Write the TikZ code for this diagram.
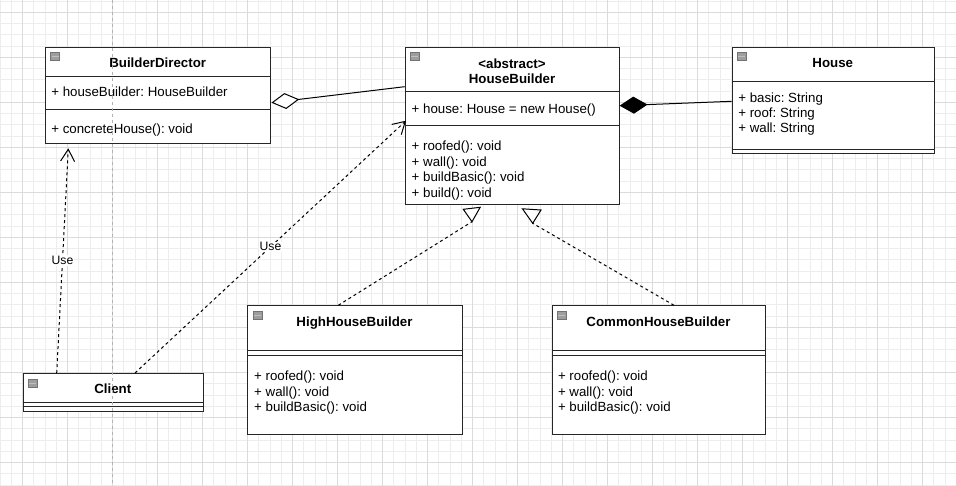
\documentclass[tikz,border=0pt]{standalone}
\usepackage{fontspec}
\setmainfont{Liberation Sans}
\usetikzlibrary{arrows.meta,calc}
\frenchspacing
\newcommand\clsicon[1]{%
  \draw[fill=black!38,draw=black!55,line width=0.6pt] ($(#1.north west)+(5.5,6)$) rectangle ++(9,8);
  \draw[white!75!black,line width=1pt] ($(#1.north west)+(6.5,10)$) -- ++(7,0);}
\begin{document}
\begin{tikzpicture}[x=1pt,y=-1pt,
  gridminor/.style={draw=black!7,line width=0.6pt},
  gridmajor/.style={draw=black!14,line width=0.7pt},
  cls/.style={draw=black!85,line width=1pt,fill=white,inner sep=0pt,anchor=north west},
  sepline/.style={draw=black!85,line width=1pt},
  txt/.style={inner sep=0pt,anchor=base west,font=\fontsize{13.3pt}{15pt}\selectfont},
  ttl/.style={inner sep=0pt,anchor=base,font=\bfseries\fontsize{13.3pt}{15pt}\selectfont},
  dep/.style={draw=black,line width=1pt,dash pattern=on 3pt off 3pt},
  conn/.style={draw=black,line width=1pt},
  lbl/.style={fill=white,inner sep=1pt,font=\fontsize{12.2pt}{14pt}\selectfont},
  tri/.style={draw=black,line width=1pt,fill=white,line join=miter}]
\useasboundingbox (0,0) rectangle (956,486);
\fill[white] (0,0) rectangle (956,486);
% grid
\foreach \i in {0,...,85} {\draw[gridminor] ({-0.2+11.25*\i},0) -- ++(0,486);}
\foreach \i in {0,...,43} {\draw[gridminor] (0,{1.05+11.25*\i}) -- ++(956,0);}
\foreach \i in {0,...,20} {\draw[gridmajor] ({22.3+45*\i},0) -- ++(0,486);}
\foreach \i in {0,...,10} {\draw[gridmajor] (0,{12.3+45*\i}) -- ++(956,0);}

% BuilderDirector
\node[cls,minimum width=225.3pt,minimum height=96.6pt] (bd) at (45,46.7) {};
\draw[sepline] (bd.west |- 0,76.3) -- (bd.east |- 0,76.3);
\draw[sepline] (bd.west |- 0,110) -- (bd.east |- 0,110);
\clsicon{bd}
\node[ttl] (bdt) at (157.7,67.6) {BuilderDirector};
\node[txt] (bda1) at (51.1,96.6) {+ houseBuilder: HouseBuilder};
\node[txt] (bdm1) at (51.1,133.9) {+ concreteHouse(): void};

% HouseBuilder
\node[cls,minimum width=214.6pt,minimum height=157.6pt] (hb) at (404.7,46.7) {};
\draw[sepline] (hb.west |- 0,92) -- (hb.east |- 0,92);
\draw[sepline] (hb.west |- 0,125.7) -- (hb.east |- 0,125.7);
\clsicon{hb}
\node[ttl] (hbs) at (512,68.1) {<abstract>};
\node[ttl] (hbt) at (512,83.2) {HouseBuilder};
\node[txt] (hba1) at (411.5,113.2) {+ house: House = new House()};
\node[txt] (hbm1) at (411.5,150.9) {+ roofed(): void};
\node[txt] (hbm2) at (411.5,166.3) {+ wall(): void};
\node[txt] (hbm3) at (411.5,181.7) {+ buildBasic(): void};
\node[txt] (hbm4) at (411.5,197.1) {+ build(): void};

% House
\node[cls,minimum width=202.3pt,minimum height=106.6pt] (house) at (731.7,46.7) {};
\draw[sepline] (house.west |- 0,81.3) -- (house.east |- 0,81.3);
\draw[sepline] (house.west |- 0,149.3) -- (house.east |- 0,149.3);
\clsicon{house}
\node[ttl] (houset) at (832.8,67.6) {House};
\node[txt] (housea1) at (738.1,102.2) {+ basic: String};
\node[txt] (housea2) at (738.1,117.6) {+ roof: String};
\node[txt] (housea3) at (738.1,133) {+ wall: String};

% Client
\node[cls,minimum width=180.3pt,minimum height=38pt] (cl) at (22.7,373) {};
\draw[sepline] (cl.west |- 0,402.3) -- (cl.east |- 0,402.3);
\draw[sepline] (cl.west |- 0,406.3) -- (cl.east |- 0,406.3);
\clsicon{cl}
\node[ttl] (clt) at (112.8,393.2) {Client};

% HighHouseBuilder
\node[cls,minimum width=214.4pt,minimum height=128.4pt] (hh) at (247.3,305.3) {};
\draw[sepline] (hh.west |- 0,350.7) -- (hh.east |- 0,350.7);
\draw[sepline] (hh.west |- 0,355.3) -- (hh.east |- 0,355.3);
\clsicon{hh}
\node[ttl] (hht) at (354.5,326.6) {HighHouseBuilder};
\node[txt] (hhm1) at (254,380.9) {+ roofed(): void};
\node[txt] (hhm2) at (254,396.3) {+ wall(): void};
\node[txt] (hhm3) at (254,411.7) {+ buildBasic(): void};

% CommonHouseBuilder
\node[cls,minimum width=213.6pt,minimum height=128.2pt] (ch) at (551.7,305.3) {};
\draw[sepline] (ch.west |- 0,350.5) -- (ch.east |- 0,350.5);
\draw[sepline] (ch.west |- 0,355.1) -- (ch.east |- 0,355.1);
\clsicon{ch}
\node[ttl] (cht) at (658.5,326.6) {CommonHouseBuilder};
\node[txt] (chm1) at (557.8,380.9) {+ roofed(): void};
\node[txt] (chm2) at (557.8,396.3) {+ wall(): void};
\node[txt] (chm3) at (557.8,411.7) {+ buildBasic(): void};

% aggregation BuilderDirector -- HouseBuilder
\coordinate (aggs) at (271.4,102.7);
\draw[conn,{Diamond[open,fill=white,length=28pt,width=16pt]}-] (aggs) -- (hb.west |- 0,86.7);
% composition HouseBuilder -- House
\coordinate (comps) at (619.6,105.7);
\draw[conn,{Diamond[length=28pt,width=17pt]}-] (comps) -- (house.west |- 0,101.3);

% Client uses BuilderDirector
\coordinate (bdin) at (68.3,148.3);
\draw[dep,-{Straight Barb[length=12pt,width=14pt]}] ($(cl.north west)+(34,0)$) -- (bdin)
  node[lbl,pos=0.5] (use1) {Use};
% Client uses HouseBuilder
\coordinate (hbin) at (406,120.7);
\draw[dep,-{Straight Barb[length=12pt,width=14pt]}] ($(cl.north west)+(112.3,0)$) -- (hbin)
  node[lbl,pos=0.5] (use2) {Use};

% realization High -> HouseBuilder
\coordinate (t1) at (472,221.7);
\draw[dep] ($(hh.north west)+(91,0)$) -- (t1);
\draw[tri] (463.3,209.3) -- (480.2,207.3) -- (t1) -- cycle;
% realization Common -> HouseBuilder
\coordinate (t2) at (532.7,223.3);
\draw[dep] ($(ch.north west)+(122.3,0)$) -- (t2);
\draw[tri] (522.5,208.8) -- (541,210) -- (t2) -- cycle;

% page break line
\draw[black!30,line width=0.7pt,dash pattern=on 3pt off 3pt] (112.3,0) -- (112.3,486);
\end{tikzpicture}
\end{document}
